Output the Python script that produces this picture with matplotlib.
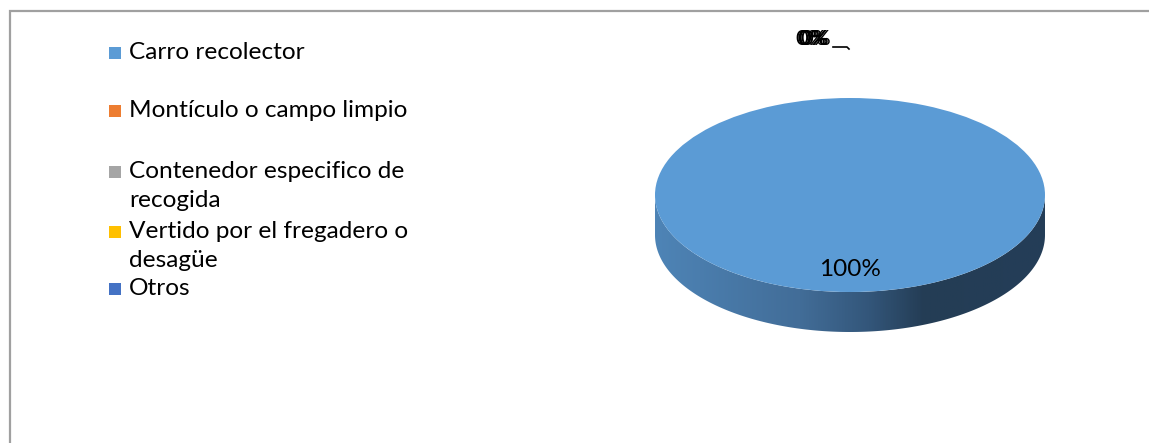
import numpy as np
import matplotlib.pyplot as plt
from matplotlib.patches import Wedge, Rectangle, Polygon
from matplotlib.transforms import Affine2D
from matplotlib.colors import LinearSegmentedColormap

# Destino de los residuos (porcentaje de respuestas)
categories = ['Carro recolector', 'Montículo o campo limpio',
              'Contenedor especifico de recogida',
              'Vertido por el fregadero o desagüe', 'Otros']
legend_lines = [['Carro recolector'],
                ['Montículo o campo limpio'],
                ['Contenedor especifico de', 'recogida'],
                ['Vertido por el fregadero o', 'desagüe'],
                ['Otros']]
values = [100, 0, 0, 0, 0]
colors = ['#5b9bd5', '#ed7d31', '#a5a5a5', '#ffc000', '#4472c4']

plt.rcParams['font.family'] = ['Lato', 'DejaVu Sans']

W, H = 1149, 443
fig = plt.figure(figsize=(W / 100, H / 100), dpi=100)
ax = fig.add_axes([0, 0, 1, 1])
ax.set_xlim(0, W)
ax.set_ylim(H, 0)
ax.axis('off')

# marco del gráfico (solo borde superior e izquierdo quedan dentro)
ax.plot([9.5, 9.5, W + 5], [H + 5, 11, 11], color='#a0a0a0', lw=1.6,
        solid_joinstyle='miter')

# pastel 3D: elipse superior + costado frontal
cx, cy, rx, ry, depth = 850, 195, 195, 97, 40
ell = Affine2D().scale(rx, ry).translate(cx, cy) + ax.transData

shares = np.array(values, dtype=float) / sum(values)
bounds = -90 + 360 * np.concatenate([[0], np.cumsum(shares)])

side_cmap = LinearSegmentedColormap.from_list(
    'side', [(0, '#4e84b6'), (0.37, '#426d98'), (0.55, '#33567a'),
             (0.69, '#243d55'), (1, '#243e58')])
grad = side_cmap(np.linspace(0, 1, 400))[None, :, :]

for i, v in enumerate(values):
    a, b = bounds[i], bounds[i + 1]
    if b - a <= 0:
        continue
    # parte visible del costado (ángulos 0..180, frente)
    for off in (-360, 0, 360):
        lo, hi = max(a, 0 + off), min(b, 180 + off)
        if hi <= lo:
            continue
        t = np.radians(np.linspace(lo, hi, 200))
        top = np.column_stack([cx + rx * np.cos(t), cy + ry * np.sin(t)])
        bot = top[::-1] + [0, depth]
        poly = Polygon(np.vstack([top, bot]), closed=True, fc='none', ec='none')
        ax.add_patch(poly)
        im = ax.imshow(grad, extent=[cx - rx, cx + rx, cy + ry + depth, cy - ry],
                       aspect='auto', zorder=1)
        im.set_clip_path(poly)

for i, v in enumerate(values):
    a, b = bounds[i], bounds[i + 1]
    if b - a <= 0:
        continue
    ax.add_patch(Wedge((0, 0), 1, a, b, transform=ell, fc=colors[i],
                       ec='none', zorder=2))

# etiquetas de porcentaje
for i, v in enumerate(values):
    mid = np.radians((bounds[i] + bounds[i + 1]) / 2)
    if v > 0:
        ax.text(cx + 0.0 * rx * np.cos(mid), cy + 0.84 * ry * np.sin(mid),
                f'{v:.0f}%', ha='center', va='baseline', fontsize=17.5,
                color='#000000', zorder=3)
# porciones nulas: etiquetas superpuestas sobre el pastel con guía
zeros = [v for v in values if v == 0]
for k, v in enumerate(zeros):
    ax.text(811 + 1.6 * k, 45, f'{v:.0f}%', ha='center', va='baseline',
            fontsize=16, color='#000000', zorder=3)
ax.plot([833, 847, 849], [47, 47, 49], color='#000000', lw=1.2, zorder=3)

# leyenda
baselines = [59, 117, 178, 238, 295]
for lines, col, yb in zip(legend_lines, colors, baselines):
    ax.add_patch(Rectangle((109, yb - 12), 12, 12, fc=col, ec='none'))
    for j, line in enumerate(lines):
        ax.text(129, yb + 29 * j, line, ha='left', va='baseline',
                fontsize=17.6, color='#000000')

fig.savefig('out.png', dpi=100)
